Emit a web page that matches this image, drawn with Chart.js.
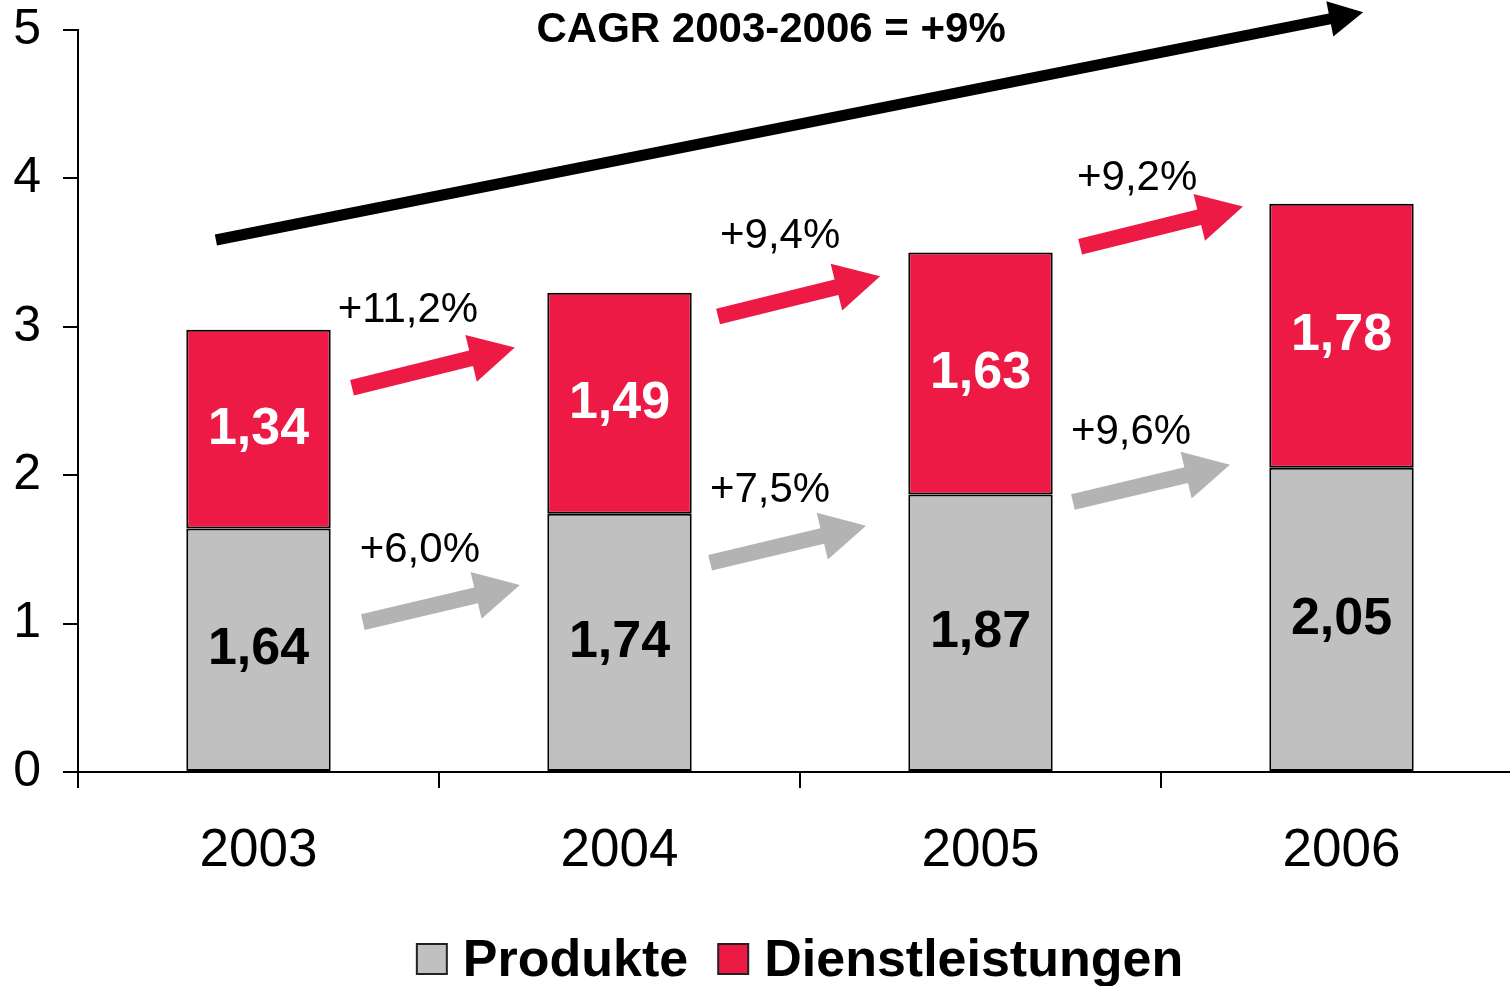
<!DOCTYPE html>
<html lang="de">
<head>
  <meta charset="UTF-8">
  <title>Umsatz Produkte und Dienstleistungen</title>
  <style>
    html, body { margin: 0; padding: 0; background: #fff; overflow: hidden; }
    #wrap { width: 1510px; height: 986px; overflow: hidden; }
  </style>
</head>
<body>
<div id="wrap">
  <canvas id="barChart" width="1522" height="986"></canvas>
</div>
<script src="https://cdn.jsdelivr.net/npm/chart.js"></script>
<script>
  const years = ['2003', '2004', '2005', '2006'];
  const produkte = [1.64, 1.74, 1.87, 2.05];
  const dienstleistungen = [1.34, 1.49, 1.63, 1.78];
  const produkteGrowth = ['+6,0%', '+7,5%', '+9,6%'];
  const dienstGrowth = ['+11,2%', '+9,4%', '+9,2%'];
  const cagrText = 'CAGR 2003-2006 = +9%';

  const FONT = '"Liberation Sans", Arial, Helvetica, sans-serif';
  const RED = '#ee1a46';
  const GREY = '#c0c0c0';
  const GREY_ARROW = '#b3b3b3';

  // arrow annotations in axis units: [xFrom, yFrom, xTo, yTo], x = category index
  const greyArrows = [[0.289, 1.01, 0.724, 1.26], [1.251, 1.41, 1.683, 1.66], [2.256, 1.82, 2.691, 2.07]];
  const redArrows = [[0.259, 2.59, 0.710, 2.86], [1.273, 3.07, 1.722, 3.34], [2.276, 3.54, 2.727, 3.81]];
  const greyLabelPos = [[0.447, 1.49], [1.417, 1.90], [2.417, 2.29]];
  const redLabelPos = [[0.414, 3.11], [1.445, 3.61], [2.434, 4.00]];
  const cagrArrow = [-0.118, 3.585, 3.06, 5.12];
  const cagrPos = [1.42, 5.0];

  function drawArrow(ctx, x1, y1, x2, y2, shaft, headLen, headW, color) {
    const a = Math.atan2(y2 - y1, x2 - x1);
    const len = Math.hypot(x2 - x1, y2 - y1);
    ctx.save();
    ctx.translate(x1, y1);
    ctx.rotate(a);
    ctx.fillStyle = color;
    ctx.beginPath();
    ctx.moveTo(0, -shaft / 2);
    ctx.lineTo(len - headLen, -shaft / 2);
    ctx.lineTo(len - headLen, -headW / 2);
    ctx.lineTo(len, 0);
    ctx.lineTo(len - headLen, headW / 2);
    ctx.lineTo(len - headLen, shaft / 2);
    ctx.lineTo(0, shaft / 2);
    ctx.closePath();
    ctx.fill();
    ctx.restore();
  }

  const annotations = {
    id: 'annotations',
    afterDatasetsDraw(chart) {
      const ctx = chart.ctx;
      const xs = chart.scales.x, ys = chart.scales.y;
      const px = v => xs.getPixelForValue(0) + v * (xs.getPixelForValue(1) - xs.getPixelForValue(0));
      const py = v => ys.getPixelForValue(v);

      // values inside the bars
      ctx.save();
      ctx.font = 'bold 52px ' + FONT;
      ctx.textAlign = 'center';
      ctx.textBaseline = 'middle';
      chart.data.datasets.forEach((ds, di) => {
        chart.getDatasetMeta(di).data.forEach((bar, i) => {
          ctx.fillStyle = di === 0 ? '#000' : '#fff';
          ctx.fillText(ds.data[i].toFixed(2).replace('.', ','), bar.x, (bar.y + bar.base) / 2);
        });
      });

      // growth arrows + labels
      ctx.font = '42px ' + FONT;
      ctx.fillStyle = '#000';
      greyArrows.forEach((a, i) => {
        drawArrow(ctx, px(a[0]), py(a[1]), px(a[2]), py(a[3]), 16, 45, 48, GREY_ARROW);
        ctx.fillText(produkteGrowth[i], px(greyLabelPos[i][0]), py(greyLabelPos[i][1]));
      });
      redArrows.forEach((a, i) => {
        drawArrow(ctx, px(a[0]), py(a[1]), px(a[2]), py(a[3]), 16, 45, 48, RED);
        ctx.fillText(dienstGrowth[i], px(redLabelPos[i][0]), py(redLabelPos[i][1]));
      });

      // CAGR arrow
      drawArrow(ctx, px(cagrArrow[0]), py(cagrArrow[1]), px(cagrArrow[2]), py(cagrArrow[3]), 11, 34, 36, '#000');
      ctx.font = 'bold 42px ' + FONT;
      ctx.fillText(cagrText, px(cagrPos[0]), py(cagrPos[1]));
      ctx.restore();
    },
    afterDraw(chart) {
      // legend at the bottom
      const ctx = chart.ctx;
      const area = chart.chartArea;
      ctx.save();
      ctx.font = 'bold 52px ' + FONT;
      ctx.textBaseline = 'alphabetic';
      const box = 30, gapText = 16, gapItem = 30;
      const items = chart.data.datasets.map(ds => ({ label: ds.label, color: ds.backgroundColor, w: ctx.measureText(ds.label).width }));
      let total = 0;
      items.forEach((it, i) => { total += box + gapText + it.w + (i ? gapItem : 0); });
      let x = (area.left + area.right) / 2 - total / 2;
      const baseline = 976;
      items.forEach(it => {
        ctx.fillStyle = it.color;
        ctx.fillRect(x, baseline - 32, box, box);
        ctx.strokeStyle = '#222';
        ctx.lineWidth = 2;
        ctx.strokeRect(x, baseline - 32, box, box);
        x += box + gapText;
        ctx.fillStyle = '#000';
        ctx.fillText(it.label, x, baseline);
        x += it.w + gapItem;
      });
      ctx.restore();
    }
  };

  const ctx = document.getElementById('barChart').getContext('2d');
  new Chart(ctx, {
    type: 'bar',
    data: {
      labels: years,
      datasets: [{
        label: 'Produkte',
        data: produkte,
        backgroundColor: GREY,
        borderColor: '#000',
        borderWidth: 2,
        borderSkipped: false,
        barPercentage: 0.4,
        categoryPercentage: 1
      }, {
        label: 'Dienstleistungen',
        data: dienstleistungen,
        backgroundColor: RED,
        borderColor: '#000',
        borderWidth: 2,
        borderSkipped: false,
        barPercentage: 0.4,
        categoryPercentage: 1
      }]
    },
    options: {
      responsive: false,
      animation: false,
      layout: { padding: { top: 30, right: 0, left: 0, bottom: 0 } },
      plugins: {
        legend: { display: false },
        tooltip: { enabled: false }
      },
      scales: {
        x: {
          stacked: true,
          grid: { drawOnChartArea: false, drawTicks: true, tickLength: 16, color: '#000', lineWidth: 2, offset: true },
          border: { color: '#000', width: 2 },
          ticks: { color: '#000', font: { family: FONT, size: 53 }, padding: 32 },
          afterFit(scale) { scale.height = 214; }
        },
        y: {
          stacked: true,
          min: 0,
          max: 5,
          grid: { drawOnChartArea: false, drawTicks: true, tickLength: 15, color: '#000', lineWidth: 2 },
          border: { color: '#000', width: 2 },
          ticks: { stepSize: 1, color: '#000', font: { family: FONT, size: 50 }, padding: 22 },
          afterFit(scale) {
            scale.width = 78;
            scale.paddingTop = 0;
            scale.paddingBottom = 0;
          }
        }
      }
    },
    plugins: [annotations]
  });
</script>
</body>
</html>
